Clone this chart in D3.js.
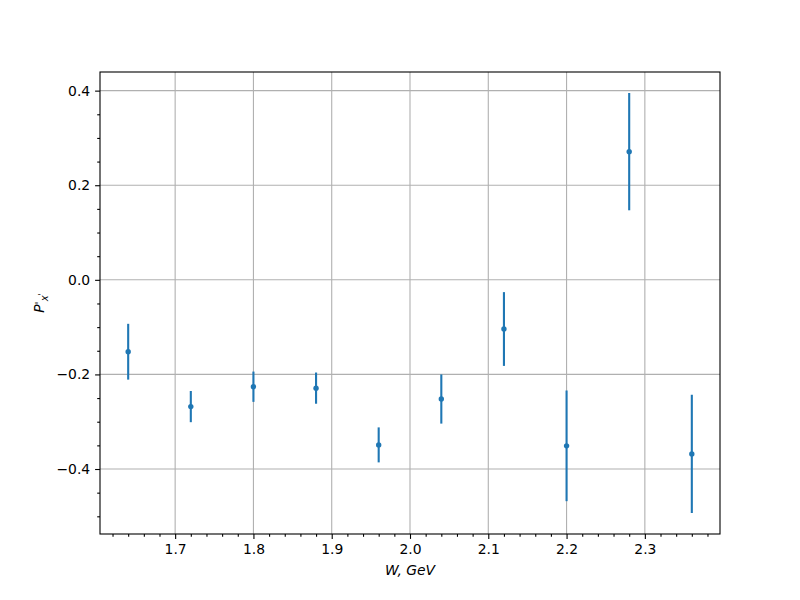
<!DOCTYPE html>
<html><head><meta charset="utf-8">
<script src="https://cdn.jsdelivr.net/npm/d3@7"></script>
<style>body{margin:0;background:#fff}svg{font-family:"DejaVu Sans",sans-serif}</style>
</head><body>
<svg id="c" width="800" height="600"></svg>
<script>
const W = [1.64, 1.72, 1.80, 1.88, 1.96, 2.04, 2.12, 2.20, 2.28, 2.36];
const P = [-0.152, -0.268, -0.226, -0.229, -0.349, -0.252, -0.104, -0.351, 0.271, -0.368];
const ERR = [0.059, 0.033, 0.032, 0.033, 0.037, 0.052, 0.078, 0.117, 0.124, 0.125];
const xTicks = [1.7, 1.8, 1.9, 2.0, 2.1, 2.2, 2.3];
const yTicks = [-0.4, -0.2, 0.0, 0.2, 0.4];

const svg = d3.select("#c");
const L = 100, R = 720, T = 72, B = 534;
const color = "#1f77b4";
const FS = 13.9;

const xmin = d3.min(W), xmax = d3.max(W), xr = xmax - xmin;
const x = d3.scaleLinear().domain([xmin - 0.05*xr, xmax + 0.05*xr]).range([L, R]);
const lo = d3.min(P.map((v,i)=>v-ERR[i])), hi = d3.max(P.map((v,i)=>v+ERR[i])), yr = hi - lo;
const y = d3.scaleLinear().domain([lo - 0.05*yr, hi + 0.05*yr]).range([B, T]);

// grid
const g = svg.append("g");
g.selectAll(".gx").data(xTicks).enter().append("line")
  .attr("x1", d=>x(d)).attr("x2", d=>x(d)).attr("y1", T).attr("y2", B)
  .attr("stroke", "#b0b0b0").attr("stroke-width", 1.1);
g.selectAll(".gy").data(yTicks).enter().append("line")
  .attr("y1", d=>y(d)).attr("y2", d=>y(d)).attr("x1", L).attr("x2", R)
  .attr("stroke", "#b0b0b0").attr("stroke-width", 1.1);

// error bars
svg.selectAll(".eb").data(W).enter().append("line")
  .attr("x1", d=>x(d)).attr("x2", d=>x(d))
  .attr("y1", (d,i)=>y(P[i]-ERR[i])).attr("y2", (d,i)=>y(P[i]+ERR[i]))
  .attr("stroke", color).attr("stroke-width", 2.1);
svg.selectAll(".pt").data(W).enter().append("circle")
  .attr("cx", d=>x(d)).attr("cy", (d,i)=>y(P[i])).attr("r", 2.7).attr("fill", color);

// axes
const xMinor = d3.range(1.62, 2.3901, 0.02).filter(v => Math.abs(Math.round(v*10)-v*10) > 1e-6);
const yMinor = d3.range(-0.5, 0.4301, 0.05).filter(v => Math.abs(Math.round(v*5)-v*5) > 1e-6);

svg.append("g").attr("transform", `translate(0,${B})`)
  .call(d3.axisBottom(x).tickValues(xTicks).tickFormat(d3.format(".1f")).tickSize(4.9).tickPadding(4.9));
svg.append("g").attr("transform", `translate(0,${B})`)
  .call(d3.axisBottom(x).tickValues(xMinor).tickFormat("").tickSize(2.8));
svg.append("g").attr("transform", `translate(${L},0)`)
  .call(d3.axisLeft(y).tickValues(yTicks).tickFormat(d3.format(".1f")).tickSize(4.9).tickPadding(4.9));
svg.append("g").attr("transform", `translate(${L},0)`)
  .call(d3.axisLeft(y).tickValues(yMinor).tickFormat("").tickSize(2.8));
svg.selectAll(".tick text").attr("font-size", FS).attr("fill", "#000").attr("font-family", "DejaVu Sans");
svg.selectAll(".tick line").attr("stroke", "#000").attr("stroke-width", 1.1);
svg.selectAll(".domain").remove();

// frame
svg.append("rect").attr("x", L).attr("y", T).attr("width", R-L).attr("height", B-T)
  .attr("fill", "none").attr("stroke", "#000").attr("stroke-width", 1.1);

// labels
svg.append("text").attr("x", (L+R)/2).attr("y", 575).attr("text-anchor", "middle")
  .attr("font-size", FS).attr("font-style", "italic").attr("font-family", "DejaVu Sans")
  .text("W, GeV");

const yl = svg.append("text").attr("transform", `translate(44,${(T+B)/2}) rotate(-90)`)
  .attr("text-anchor", "middle").attr("font-size", FS).attr("font-style", "italic").attr("font-family", "DejaVu Sans");
yl.append("tspan").text("P");
yl.append("tspan").attr("font-size", 11).attr("dy", -1).text("'");
yl.append("tspan").attr("font-size", 10).attr("dy", 5).text("x");
yl.append("tspan").attr("font-size", 8).attr("dy", -3).text("'");
</script>
</body></html>
